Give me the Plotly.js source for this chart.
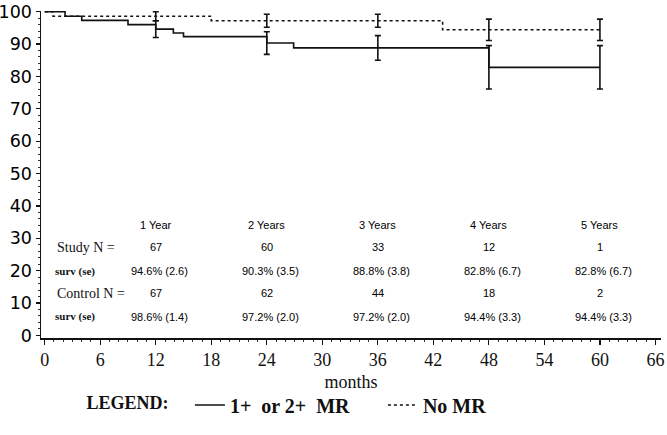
<!DOCTYPE html>
<html>
<head>
<meta charset="utf-8">
<script src="https://cdn.plot.ly/plotly-3.0.1.min.js"></script>
<style>html,body{margin:0;padding:0;background:#fff;}#chart{width:667px;height:435px;}</style>
</head>
<body>
<div id="chart"></div>
<script>
// Kaplan-Meier step data (months, % survival)
var studyMonths = [0, 2.2, 4.0, 9.0, 12.0, 13.9, 15.0, 24.0, 26.9, 48.0, 60.0];
var studySurv   = [100, 98.6, 97.3, 96.0, 94.6, 93.4, 92.3, 90.3, 88.8, 82.8, 82.8];
var controlMonths = [0, 0.9, 18.0, 43.0, 60.0];
var controlSurv   = [100, 98.6, 97.2, 94.4, 94.4];

// Yearly table
var yearMonths  = [12, 24, 36, 48, 60];
var yearLabels  = ["1 Year", "2 Years", "3 Years", "4 Years", "5 Years"];
var studyN      = [67, 60, 33, 12, 1];
var studyYrSurv = [94.6, 90.3, 88.8, 82.8, 82.8];
var studyYrSE   = [2.6, 3.5, 3.8, 6.7, 6.7];
var controlN      = [67, 62, 44, 18, 2];
var controlYrSurv = [98.6, 97.2, 97.2, 94.4, 94.4];
var controlYrSE   = [1.4, 2.0, 2.0, 3.3, 3.3];

var xTicks = [0, 6, 12, 18, 24, 30, 36, 42, 48, 54, 60, 66];
var yTicks = [0, 10, 20, 30, 40, 50, 60, 70, 80, 90, 100];

var traces = [
  {x: studyMonths, y: studySurv, mode: 'lines', line: {shape: 'hv', color: '#111', width: 1.6},
   name: '1+  or 2+  MR', showlegend: true, hoverinfo: 'skip'},
  {x: controlMonths, y: controlSurv, mode: 'lines', line: {shape: 'hv', color: '#111', width: 1.6, dash: 'dot'},
   name: 'No MR', showlegend: true, hoverinfo: 'skip'},
  {x: yearMonths, y: studyYrSurv, mode: 'markers', marker: {size: 1, color: 'rgba(0,0,0,0)'},
   error_y: {type: 'data', array: studyYrSE, visible: true, color: '#111', thickness: 1.6, width: 3},
   showlegend: false, hoverinfo: 'skip'},
  {x: yearMonths, y: controlYrSurv, mode: 'markers', marker: {size: 1, color: 'rgba(0,0,0,0)'},
   error_y: {type: 'data', array: controlYrSE, visible: true, color: '#111', thickness: 1.6, width: 3},
   showlegend: false, hoverinfo: 'skip'}
];

var annotations = [];
var rowY = {head: 34, sN: 27.3, sS: 19.8, cN: 13, cS: 5.8};
var numFont = {family: 'Liberation Sans, Arial, sans-serif', size: 11, color: '#000'};
function fmt(v, se) { return v.toFixed(1) + '% (' + se.toFixed(1) + ')'; }
for (var i = 0; i < yearMonths.length; i++) {
  var xm = yearMonths[i];
  annotations.push({x: xm, y: rowY.head, xref: 'x', yref: 'y', text: yearLabels[i], showarrow: false, font: numFont});
  annotations.push({x: xm, y: rowY.sN, xref: 'x', yref: 'y', text: String(studyN[i]), showarrow: false, font: numFont});
  annotations.push({x: xm + 0.4, y: rowY.sS, xref: 'x', yref: 'y', text: fmt(studyYrSurv[i], studyYrSE[i]), showarrow: false, font: numFont});
  annotations.push({x: xm, y: rowY.cN, xref: 'x', yref: 'y', text: String(controlN[i]), showarrow: false, font: numFont});
  annotations.push({x: xm + 0.4, y: rowY.cS, xref: 'x', yref: 'y', text: fmt(controlYrSurv[i], controlYrSE[i]), showarrow: false, font: numFont});
}
var rowFontBig = {family: 'Liberation Serif, Times New Roman, serif', size: 14, color: '#111'};
var rowFontSmall = {family: 'Liberation Serif, Times New Roman, serif', size: 11, color: '#111'};
annotations.push({x: 1.1, y: rowY.sN, xref: 'x', yref: 'y', xanchor: 'left', text: 'Study N =', showarrow: false, font: rowFontBig});
annotations.push({x: 0.9, y: rowY.sS, xref: 'x', yref: 'y', xanchor: 'left', text: '<b>surv (se)</b>', showarrow: false, font: rowFontSmall});
annotations.push({x: 1.1, y: rowY.cN, xref: 'x', yref: 'y', xanchor: 'left', text: 'Control N =', showarrow: false, font: rowFontBig});
annotations.push({x: 0.9, y: rowY.cS, xref: 'x', yref: 'y', xanchor: 'left', text: '<b>surv (se)</b>', showarrow: false, font: rowFontSmall});

var layout = {
  width: 667, height: 435,
  margin: {l: 41, r: 6, t: 11, b: 97},
  paper_bgcolor: '#fff', plot_bgcolor: '#fff',
  showlegend: true,
  legend: {
    orientation: 'h', x: 0.07, xref: 'paper', y: -0.205, yref: 'paper', yanchor: 'middle',
    font: {family: 'Liberation Serif, Times New Roman, serif', size: 20, color: '#111', weight: 'bold'},
    title: {text: '<b>LEGEND:</b>&nbsp;&nbsp;&nbsp;', font: {family: 'Liberation Serif, Times New Roman, serif', size: 18, color: '#111'}, side: 'left'},
    itemwidth: 30, entrywidth: 148, traceorder: 'normal', bgcolor: 'rgba(0,0,0,0)'
  },
  xaxis: {
    range: [-0.4, 66.6], tickvals: xTicks, ticktext: xTicks.map(String),
    showgrid: false, zeroline: false, showline: true, linecolor: '#111', linewidth: 1.5,
    ticks: 'outside', ticklen: 5, tickwidth: 1.2, tickcolor: '#111',
    minor: {dtick: 1, tick0: 0, ticks: 'outside', ticklen: 2, tickwidth: 1, tickcolor: '#333', showgrid: false},
    tickfont: {family: 'Liberation Serif, Times New Roman, serif', size: 18, color: '#111'},
    title: {text: 'months', font: {family: 'Liberation Serif, Times New Roman, serif', size: 18, color: '#111'}, standoff: 6}
  },
  yaxis: {
    range: [-0.8, 100.2], tickvals: yTicks, ticktext: yTicks.map(String),
    showgrid: false, zeroline: false, showline: true, linecolor: '#111', linewidth: 1.5,
    ticks: 'outside', ticklen: 4, tickwidth: 1.2, tickcolor: '#111',
    minor: {dtick: 2, tick0: 0, ticks: 'outside', ticklen: 2, tickwidth: 1, tickcolor: '#333', showgrid: false},
    tickfont: {family: 'DejaVu Sans, sans-serif', size: 17.5, color: '#000'}
  },
  annotations: annotations
};

Plotly.newPlot('chart', traces, layout, {staticPlot: true, displayModeBar: false});
</script>
</body>
</html>
